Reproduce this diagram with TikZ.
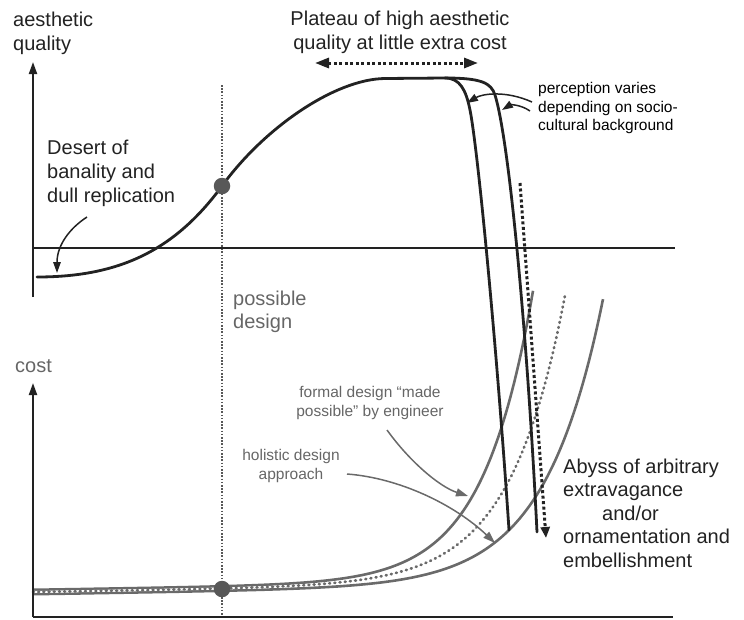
\documentclass[tikz,border=0pt]{standalone}
\usepackage{fontspec}
\setmainfont{Liberation Sans}
\usetikzlibrary{arrows.meta}
\definecolor{ink}{HTML}{222222}
\definecolor{curvegray}{HTML}{6A6A6A}
\definecolor{dotgray}{HTML}{585858}
\definecolor{labelgray}{HTML}{666666}
\begin{document}
\begin{tikzpicture}[x=1pt,y=-1pt,
  bigtext/.style={font=\fontsize{20}{24}\selectfont, text=ink, inner sep=0pt, align=left},
  smalltext/.style={font=\fontsize{15.5}{18.7}\selectfont, inner sep=0pt},
  axisline/.style={ink, line width=2pt},
  axisarrow/.style={axisline, -{Triangle[length=12pt,width=8pt]}},
  qualitycurve/.style={ink, line width=2.8pt, line cap=round},
  costcurve/.style={curvegray, line width=2.6pt},
  costdots/.style={curvegray, line width=2.7pt, line cap=round, dash pattern=on 0.9pt off 4.3pt},
  heavydots/.style={ink, line width=3pt, dash pattern=on 3pt off 2.5pt},
  pointer/.style={ink, line width=1.5pt, -{Triangle[length=11pt,width=7.5pt]}},
  graypointer/.style={curvegray, line width=1.5pt, -{Triangle[length=12pt,width=8pt]}},
  marker/.style={circle, fill=dotgray, minimum size=16.5pt, inner sep=0pt},
]
\useasboundingbox (0,0) rectangle (744,619);

% the design point: a dotted vertical through both panels
\coordinate (designtop) at (222,85);
\coordinate (designbottom) at (222,617);
\draw[dotgray, line width=1.3pt, dash pattern=on 1.6pt off 1.6pt] (designtop) -- (designbottom);

% cost curves (lower panel)
\draw[costcurve] plot[smooth, domain=33:533, samples=220]
  (\x, {589.8-0.01587*(\x-33)-291*exp((\x-533)/50)});
\draw[costcurve] plot[smooth, domain=33:603, samples=220]
  (\x, {594.2-0.01587*(\x-33)-286*exp((\x-603)/58)});
\draw[white, line width=2pt] plot[smooth, domain=33:420, samples=120]
  (\x, {592-0.01587*(\x-33)-288*exp((\x-565)/55)});
\draw[costdots] plot[smooth, domain=33:565, samples=220]
  (\x, {592-0.01587*(\x-33)-288*exp((\x-565)/55)});

% axes
\coordinate (qorigin) at (33,297);
\coordinate (qtop) at (33,62);
\coordinate (qleft) at (33,248);
\coordinate (qright) at (675,248);
\draw[axisarrow] (qorigin) -- (qtop);
\draw[axisline] (qleft) -- (qright);
\coordinate (corigin) at (33,617);
\coordinate (ctop) at (33,383);
\coordinate (cright) at (673,617);
\draw[axisarrow] (corigin) -- (ctop);
\draw[axisline] (corigin) -- (cright);

% aesthetic quality curve with its two perception branches
\coordinate (qstart) at (37,277);
\coordinate (qmid) at (222,186);
\coordinate (qflat) at (385,78.5);
\coordinate (split) at (445,78);
\coordinate (fallA) at (509,530);
\coordinate (fallB) at (537,532);
\draw[qualitycurve] (qstart) .. controls (120,277) and (175,250) .. (qmid)
  .. controls (264,128) and (335,79) .. (qflat) -- (split);
\draw[qualitycurve] (split) .. controls (460,78) and (466,90) .. (470,110)
  .. controls (478,150) and (497,350) .. (fallA);
\draw[qualitycurve] (split) .. controls (482,78) and (491,83) .. (495,95)
  .. controls (509,140) and (527,330) .. (fallB);

% heavy dotted arrows
\coordinate (abyssfrom) at (520,183);
\coordinate (abyssto) at (546,538);
\draw[heavydots, -{Triangle[length=11pt,width=9pt]}] (abyssfrom) -- (abyssto);
\coordinate (plateauL) at (315,63);
\coordinate (plateauR) at (478,63);
\draw[heavydots, {Triangle[length=14pt,width=10pt]}-{Triangle[length=14pt,width=10pt]}] (plateauL) -- (plateauR);

% markers
\node[marker] (qdot) at (qmid) {};
\node[marker] (cdot) at (222,589) {};

% labels
\node[bigtext, anchor=north west] (aq) at (13,11.7) {aesthetic\\quality};
\node[bigtext, align=center, anchor=north] (plateau) at (400,10.7) {Plateau of high aesthetic\\quality at little extra cost};
\node[bigtext, anchor=north west] (desert) at (47,139.7) {Desert of\\banality and\\dull replication};
\node[font=\fontsize{20}{23}\selectfont, text=labelgray, inner sep=0pt, align=left, anchor=north west] (possible) at (233,290.7) {possible\\design};
\node[font=\fontsize{20}{24}\selectfont, text=labelgray, inner sep=0pt, anchor=base west] (cost) at (15,372) {cost};
\node[smalltext, text=black, align=left, anchor=north west] (percep) at (538,82) {perception varies\\depending on socio-\\cultural background};
\node[smalltext, text=labelgray, align=center, anchor=north] (formal) at (370,386) {formal design “made\\possible” by engineer};
\node[smalltext, text=labelgray, align=center, anchor=north] (holistic) at (291,449) {holistic design\\approach};
\node[bigtext, font=\fontsize{20}{23.5}\selectfont, anchor=north west] (abyss) at (563,458.7) {Abyss of arbitrary\\extravagance\\\hspace*{39pt}and/or\\ornamentation and\\embellishment};

% pointers from labels
\coordinate (desertfrom) at (87,217);
\coordinate (desertto) at (57,273);
\draw[pointer] (desertfrom) .. controls (70,228) and (57,245) .. (desertto);
\coordinate (percepfromA) at (532,102);
\coordinate (perceptoA) at (467,103);
\draw[pointer] (percepfromA) .. controls (505,90) and (482,94) .. (perceptoA);
\coordinate (percepfromB) at (530,111);
\coordinate (perceptoB) at (502,110);
\draw[pointer] (percepfromB) .. controls (520,104) and (510,105) .. (perceptoB);
\coordinate (formalfrom) at (387,430);
\coordinate (formalto) at (468,496);
\draw[graypointer] (formalfrom) .. controls (410,462) and (440,487) .. (formalto);
\coordinate (holisticfrom) at (347,474);
\coordinate (holisticto) at (495,543);
\draw[graypointer] (holisticfrom) .. controls (400,478) and (455,505) .. (holisticto);
\end{tikzpicture}
\end{document}
